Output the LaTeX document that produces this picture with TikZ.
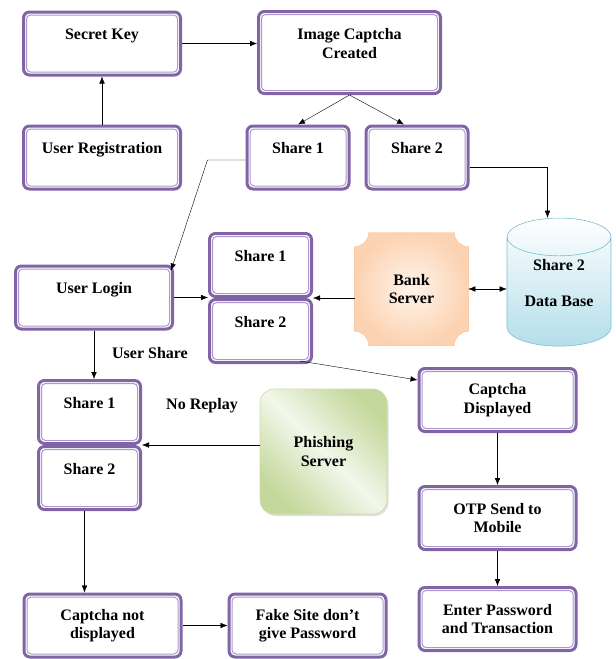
\documentclass[tikz,border=0pt]{standalone}
\usepackage{fontspec}
\setmainfont{Liberation Serif}
\usetikzlibrary{positioning,shapes.geometric,backgrounds,shadows,arrows.meta}

\definecolor{boxpurple}{RGB}{128,100,166}
\definecolor{innerpurple}{RGB}{172,152,204}
\definecolor{bankedge}{RGB}{248,186,140}
\definecolor{bankfill}{RGB}{252,211,178}
\definecolor{dbedge}{RGB}{120,190,212}
\definecolor{dbfill}{RGB}{180,222,234}
\definecolor{phishdark}{RGB}{196,216,156}
\definecolor{phishlight}{RGB}{242,247,234}

\tikzstyle{block} = [draw=boxpurple, line width=3pt, rectangle, rounded corners=6pt,
    fill=white, align=center, minimum width=157pt, minimum height=63pt,
    path picture={\draw[innerpurple, line width=1pt, rounded corners=4pt]
        ([shift={(3pt,3pt)}]path picture bounding box.south west) rectangle
        ([shift={(-3pt,-3pt)}]path picture bounding box.north east);}]
\tikzstyle{share} = [block, minimum width=102pt]
\tikzstyle{database} = [cylinder, shape border rotate=90, aspect=0.5, draw=dbedge,
    top color=white, bottom color=dbfill,
    minimum width=104pt, minimum height=122pt, align=center]
\tikzstyle{server} = [rectangle, minimum width=113pt, minimum height=112pt, align=center]
\tikzstyle{phish} = [rectangle, rounded corners=14pt, draw=phishdark!90,
    top color=phishdark, bottom color=phishdark, middle color=phishlight,
    shading angle=-45, minimum width=127pt, minimum height=125pt, align=center,
    drop shadow={opacity=0.25, shadow xshift=1.5pt, shadow yshift=-2pt}]
\tikzstyle{txt} = [rectangle]

\begin{document}
\begin{tikzpicture}[x=1pt, y=1pt, >={Latex[length=7pt,width=5.5pt]}, line width=0.6pt,
    font=\fontsize{16}{18.5}\selectfont\bfseries]
    \useasboundingbox (0,0) rectangle (616,-659);

    \node [block] (sk) at (102,-43.5) {Secret Key\\~};
    \node [block, minimum width=182pt, minimum height=82pt] (ic) at (349.5,-52.5)
        {Image Captcha\\Created\\~};
    \node [block, below=48pt of sk] (ur) {User Registration\\~};
    \node [share] (s1t) at (298,-157.5) {Share 1\\~};
    \node [share, right=14pt of s1t] (s2t) {Share 2\\~};
    \node [database] (db) at (559,-295) {Share 2\\[17.5pt]Data Base\\[5.5pt]~};
    \node [server] (bank) at (411.5,-289) {Bank\\Server};
    \node [share] (s1m) at (260.5,-265) {Share 1\\~};
    \node [share, below=0pt of s1m] (s2m) {Share 2\\~};
    \node [block] (ul) at (94,-297.5) {User Login\\~};
    \node [block] (cd) at (497.5,-400) {Captcha\\Displayed};
    \node [phish] (ph) at (323.5,-451.5) {Phishing\\Server};
    \node [share] (s1l) at (89.5,-412) {Share 1\\~};
    \node [share, below=0pt of s1l] (s2l) {Share 2\\~};
    \node [block, below=52pt of cd] (otp) {OTP Send to\\Mobile};
    \node [block, below=35pt of otp] (ep) {Enter Password\\and Transaction};
    \node [block] (cnd) at (102.5,-625.5) {Captcha not\\displayed};
    \node [block, right=45pt of cnd] (fs) {Fake Site don’t\\give Password};
    \node [txt] (us) at (150,-353) {User Share};
    \node [txt] (nr) at (202,-406) {No Replay};

    \begin{pgfonlayer}{background}
        \draw [bankedge, inner color=bankfill!25, outer color=bankfill]
            ([xshift=14pt]bank.north west) -- ([xshift=-14pt]bank.north east)
            arc [start angle=180, end angle=270, radius=14pt]
            -- ([yshift=14pt]bank.south east)
            arc [start angle=90, end angle=180, radius=14pt]
            -- ([xshift=14pt]bank.south west)
            arc [start angle=0, end angle=90, radius=14pt]
            -- ([yshift=-14pt]bank.north west)
            arc [start angle=270, end angle=360, radius=14pt] -- cycle;
    \end{pgfonlayer}

    \draw [->] (sk.east) -- (sk.east -| ic.west);
    \draw [->] (ur) -- (sk);
    \draw [->] (ic.south) -- (s1t.north);
    \draw [->] (ic.south) -- ([xshift=-13pt]s2t.north);
    \draw [->] ([yshift=-2.5pt]s1t.west) -- ++(-38,0) -- ([shift={(-3,-6)}]ul.north east);
    \draw [->] ([yshift=-10pt]s2t.east) -| ([xshift=-11.5pt]db.north);
    \draw [->] (ul.east) -- (ul.east -| s1m.south west);
    \draw [->] (bank.west |- s1m.south) -- (s1m.south east);
    \draw [<->] (bank.east) -- (bank.east -| db.west);
    \draw [->] ([shift={(-13,3)}]s2m.south east) -- ([yshift=20pt]cd.west);
    \draw [->] (ul.south) -- (ul.south |- s1l.north);
    \draw [->] (ph.west |- s1l.south) -- (s1l.south east);
    \draw [->] ([xshift=-5pt]s2l.south) -- ([xshift=-5pt]s2l.south |- cnd.north);
    \draw [->] (cnd.east) -- (cnd.east -| fs.west);
    \draw [->] (cd) -- (otp);
    \draw [->] (otp) -- (ep);
\end{tikzpicture}
\end{document}
